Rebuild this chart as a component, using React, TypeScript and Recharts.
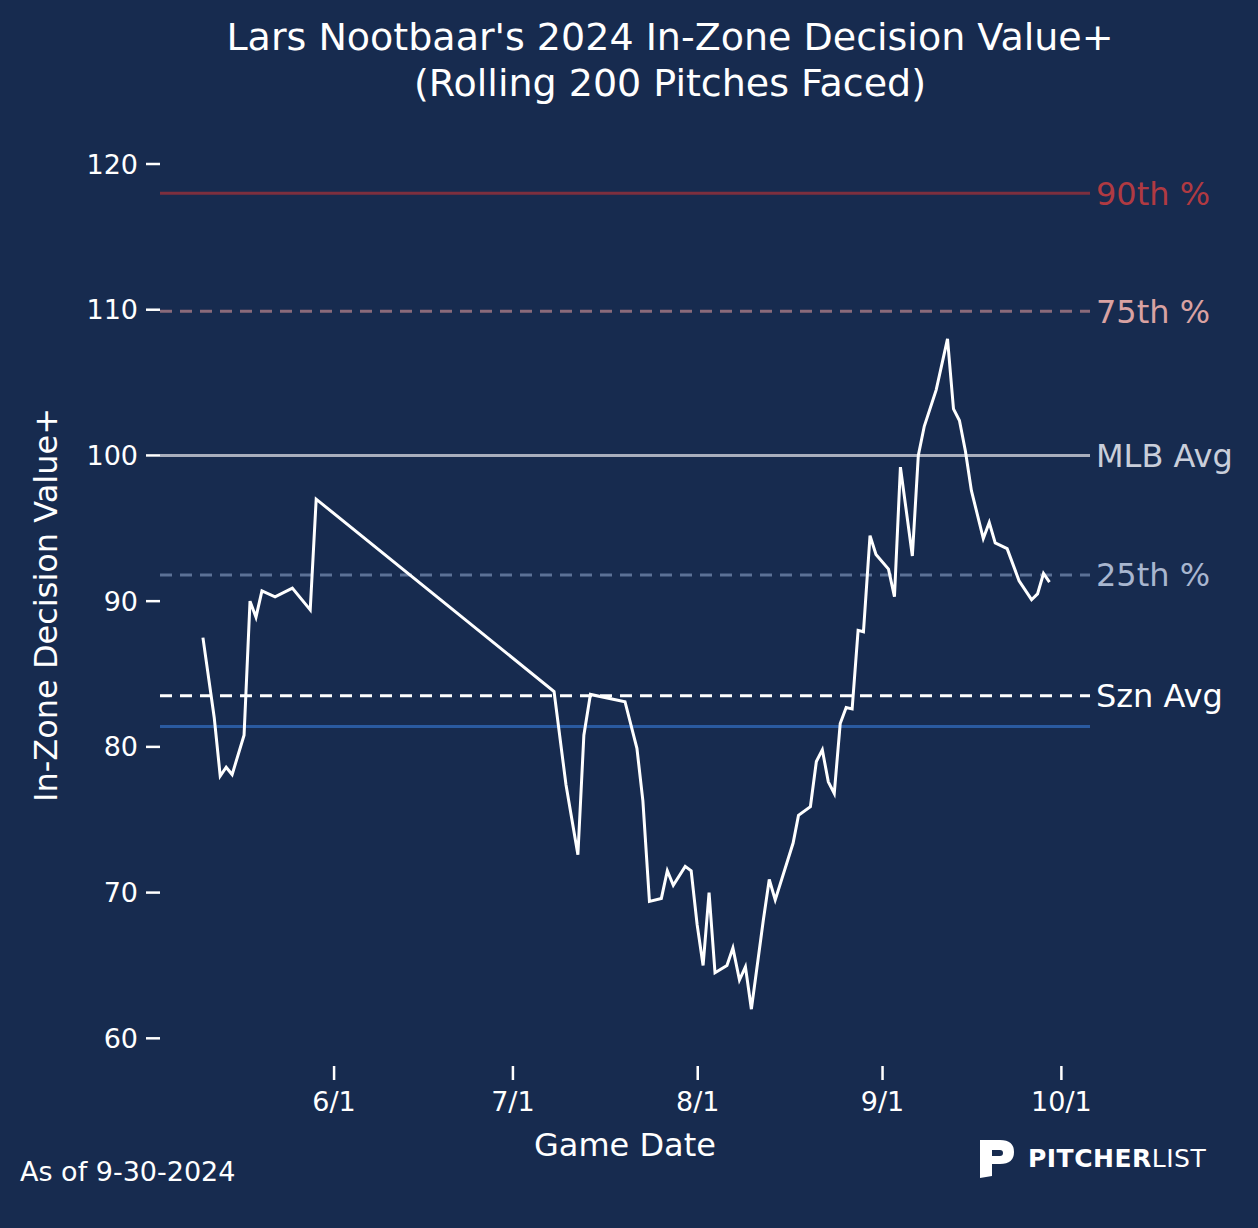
import { LineChart, Line, XAxis, YAxis, ReferenceLine } from 'recharts';

// days since 6/1
const days = [-22, -20.1, -19.1, -18.1, -17.1, -15.1, -14.1, -13.1, -12.1, -9.9, -7, -4, -3, 36.9, 38.9, 40.9, 41.9, 43, 48.8, 50.8, 51.8, 52.9, 54.9, 55.9, 56.9, 58.9, 59.9, 60.9, 61.9, 62.9, 63.9, 65.9, 66.9, 68, 69, 70, 72, 73, 74, 77, 77.9, 79.9, 80.9, 81.9, 82.9, 83.9, 84.9, 85.9, 86.9, 87.9, 88.8, 89.9, 90.9, 93, 94, 95, 97, 98, 99, 101, 102.9, 103.9, 104.9, 105.9, 106.9, 108.9, 109.9, 110.9, 112.9, 114.9, 117, 118, 119, 120];
const values = [87.5, 82, 78, 78.6, 78.1, 80.8, 90, 88.9, 90.7, 90.3, 90.9, 89.4, 97, 83.8, 77.4, 72.6, 80.8, 83.6, 83.1, 79.9, 76.3, 69.4, 69.6, 71.5, 70.5, 71.8, 71.5, 67.8, 65, 70, 64.5, 65, 66.2, 64, 64.9, 62, 68.1, 70.9, 69.5, 73.4, 75.3, 75.9, 79, 79.8, 77.6, 76.8, 81.6, 82.7, 82.6, 88, 87.9, 94.5, 93.2, 92.2, 90.3, 99.2, 93.1, 100, 102, 104.5, 108, 103.2, 102.4, 100.3, 97.6, 94.3, 95.4, 94, 93.6, 91.4, 90.1, 90.5, 91.9, 91.3];
const xTicks = [0, 30, 61, 92, 122];
const xTickLabels = ['6/1', '7/1', '8/1', '9/1', '10/1'];
const yTicks = [60, 70, 80, 90, 100, 110, 120];

const p90 = 118;
const p75 = 109.9;
const mlbAvg = 100;
const p25 = 91.8;
const sznAvg = 83.5;
const blueLine = 81.4;

const data = days.map((d, i) => ({ d, v: values[i] }));

const BG = '#172b4f';
const FONT = 'DejaVu Sans';

export default function App() {
  document.body.style.margin = '0';
  const lbl = (value: string, fill: string) => ({ value, position: 'right' as const, fill, fontSize: 32, fontFamily: FONT, offset: 6 });
  return (
    <div style={{ position: 'relative', width: 1258, height: 1228, background: BG, fontFamily: FONT, color: '#fff' }}>
      <div style={{ position: 'absolute', top: 14, left: 80, width: 1180, textAlign: 'center', fontSize: 38, lineHeight: '46px' }}>
        Lars Nootbaar's 2024 In-Zone Decision Value+<br />(Rolling 200 Pitches Faced)
      </div>
      <LineChart width={1258} height={1228} data={data} margin={{ top: 164, right: 168, bottom: 102, left: 80 }}>
        <XAxis
          dataKey="d"
          type="number"
          domain={[-29.2, 126.8]}
          ticks={xTicks}
          tickFormatter={(v: number) => xTickLabels[xTicks.indexOf(v)]}
          axisLine={false}
          height={60}
          tickSize={14}
          tickLine={{ stroke: '#fff', strokeWidth: 2.5 }}
          tick={{ fill: '#fff', fontSize: 27, fontFamily: FONT, dy: 10 }}
          label={{ value: 'Game Date', position: 'insideBottom', offset: -30, fill: '#fff', fontSize: 32, fontFamily: FONT }}
        />
        <YAxis
          type="number"
          domain={[58.1, 120]}
          ticks={yTicks}
          axisLine={false}
          width={80}
          tickSize={14}
          tickLine={{ stroke: '#fff', strokeWidth: 2.5 }}
          tick={{ fill: '#fff', fontSize: 27, fontFamily: FONT, dx: -6 }}
          allowDataOverflow
        />
        <ReferenceLine y={p90} stroke="#7d2f3e" strokeWidth={3} label={lbl('90th %', '#b03a42')} />
        <ReferenceLine y={p75} stroke="#8a6a7a" strokeWidth={3} strokeDasharray="12 8" label={lbl('75th %', '#d9a2a2')} />
        <ReferenceLine y={mlbAvg} stroke="#a9aebd" strokeWidth={3} label={lbl('MLB Avg', '#c9ceda')} />
        <ReferenceLine y={p25} stroke="#5b7196" strokeWidth={3} strokeDasharray="12 8" label={lbl('25th %', '#a8b6cf')} />
        <ReferenceLine y={sznAvg} stroke="#ffffff" strokeWidth={3} strokeDasharray="12 8" label={lbl('Szn Avg', '#ffffff')} />
        <ReferenceLine y={blueLine} stroke="#2a5aa0" strokeWidth={3} />
        <Line dataKey="v" stroke="#ffffff" strokeWidth={3} dot={false} isAnimationActive={false} />
      </LineChart>
      <div style={{ position: 'absolute', left: 46, top: 605, width: 0, height: 0 }}>
        <div style={{ position: 'absolute', transform: 'translate(-50%,-50%) rotate(-90deg)', fontSize: 32, whiteSpace: 'nowrap' }}>
          In-Zone Decision Value+
        </div>
      </div>
      <div style={{ position: 'absolute', left: 20, top: 1156, fontSize: 27 }}>As of 9-30-2024</div>
      <div style={{ position: 'absolute', left: 978, top: 1136, display: 'flex', alignItems: 'center' }}>
        <svg width={40} height={44} viewBox="0 0 40 44">
          <path d="M2 4 L22 4 Q36 4 36 16 Q36 28 22 28 L14 28 L14 40 L2 42 Z M14 14 L14 20 L22 20 Q25 20 25 17 Q25 14 22 14 Z" fill="#fff" fillRule="evenodd" />
        </svg>
        <span style={{ fontSize: 25, fontWeight: 'bold', marginLeft: 10, letterSpacing: 0.5 }}>PITCHER</span>
        <span style={{ fontSize: 25, letterSpacing: 0.5 }}>LIST</span>
      </div>
    </div>
  );
}
